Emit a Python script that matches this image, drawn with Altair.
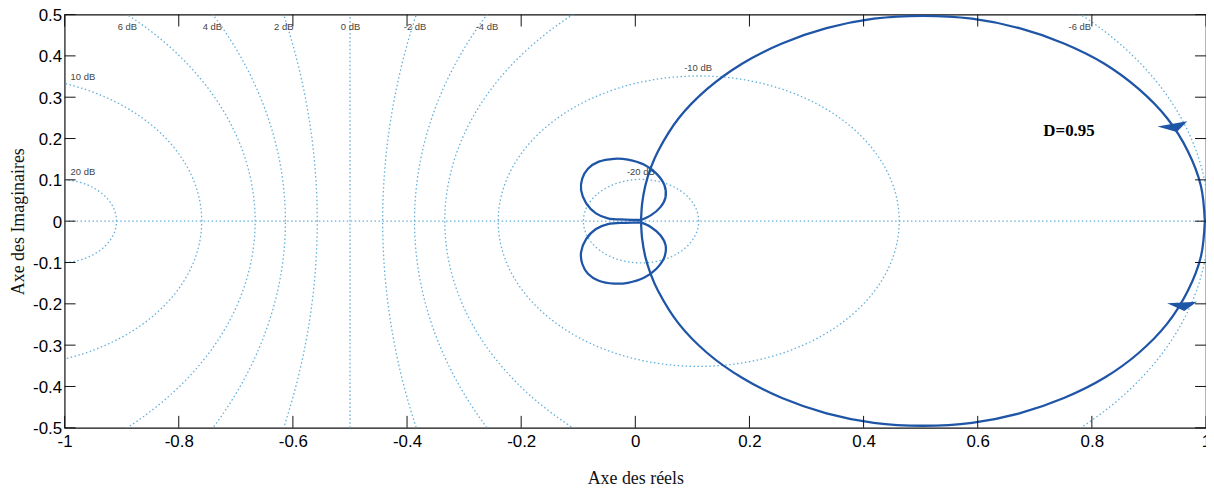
import altair as alt
import pandas as pd
import numpy as np

# ---------------- data ----------------
# Nyquist locus (D=0.95): big loop, upper and lower halves
circ_up_x = [0.010, 0.012, 0.0175, 0.027, 0.040, 0.076, 0.126, 0.187, 0.257, 0.335, 0.418, 0.504,
             0.590, 0.673, 0.751, 0.822, 0.882, 0.932, 0.968, 0.991, 0.998]
circ_up_y = [0.000, 0.043, 0.086, 0.129, 0.170, 0.249, 0.320, 0.381, 0.430, 0.467, 0.490, 0.497,
             0.490, 0.467, 0.430, 0.381, 0.320, 0.249, 0.170, 0.086, 0.000]
circ_dn_x = [0.010, 0.012, 0.0175, 0.027, 0.040, 0.076, 0.126, 0.187, 0.257, 0.335, 0.418, 0.504,
             0.590, 0.673, 0.751, 0.822, 0.882, 0.932, 0.968, 0.991, 0.998]
circ_dn_y = [0.000, -0.043, -0.086, -0.128, -0.169, -0.248, -0.319, -0.379, -0.428, -0.465, -0.488, -0.495,
             -0.488, -0.465, -0.428, -0.379, -0.319, -0.248, -0.169, -0.086, 0.000]
# small loops near the origin
lobe_up_x = [0.010, -0.017, -0.048, -0.069, -0.086, -0.095, -0.093, -0.083, -0.064, -0.037,
             -0.013, 0.015, 0.037, 0.051, 0.053, 0.044, 0.027, 0.010]
lobe_up_y = [0.003, 0.004, 0.007, 0.019, 0.043, 0.075, 0.103, 0.127, 0.144, 0.151,
             0.149, 0.137, 0.115, 0.087, 0.058, 0.034, 0.014, 0.003]
lobe_dn_x = [0.010, -0.017, -0.048, -0.069, -0.086, -0.095, -0.093, -0.083, -0.064, -0.037,
             -0.013, 0.015, 0.037, 0.051, 0.053, 0.044, 0.027, 0.010]
lobe_dn_y = [-0.003, -0.004, -0.007, -0.019, -0.043, -0.075, -0.103, -0.127, -0.144, -0.151,
             -0.149, -0.137, -0.115, -0.087, -0.058, -0.034, -0.014, -0.003]

# direction arrows
arrow_x = [0.941, 0.958]
arrow_y = [0.231, -0.202]

# M-circle grid levels (dB) and their labels
grid_db = [20, 10, 6, 4, 2, -2, -4, -6, -10, -20]
lab_text = ["20 dB", "10 dB", "6 dB", "4 dB", "2 dB", "0 dB", "-2 dB", "-4 dB", "-6 dB", "-10 dB", "-20 dB"]
lab_x = [-0.968, -0.968, -0.890, -0.741, -0.616, -0.499, -0.386, -0.260, 0.779, 0.110, 0.0096]
lab_y = [0.120, 0.349, 0.471, 0.471, 0.471, 0.471, 0.471, 0.471, 0.471, 0.370, 0.118]

x_ticks = [-1, -0.8, -0.6, -0.4, -0.2, 0, 0.2, 0.4, 0.6, 0.8, 1]
y_ticks = [-0.5, -0.4, -0.3, -0.2, -0.1, 0, 0.1, 0.2, 0.3, 0.4, 0.5]

note_text = ["D=0.95"]
note_x = [0.715]
note_y = [0.219]

# ---------------- build tables ----------------
W, H = 1149, 416
CURVE = "#1f55a6"
GRID = "#62b0da"

rows = []
for name, xs_, ys_ in [("cu", circ_up_x, circ_up_y), ("cd", circ_dn_x, circ_dn_y),
                       ("lu", lobe_up_x, lobe_up_y), ("ld", lobe_dn_x, lobe_dn_y)]:
    for i, (a, b) in enumerate(zip(xs_, ys_)):
        rows.append({"seg": name, "i": i, "x": a, "y": b})
curve_df = pd.DataFrame(rows)

grows = []
t = np.linspace(0, 2 * np.pi, 721)
for db in grid_db:
    m = 10 ** (db / 20.0)
    c = -m * m / (m * m - 1)
    r = abs(m / (m * m - 1))
    for i, tt in enumerate(t):
        grows.append({"seg": str(db), "i": i, "x": c + r * np.cos(tt), "y": r * np.sin(tt)})
# 0 dB line and the real axis
grows.append({"seg": "0", "i": 0, "x": -0.5, "y": -0.5})
grows.append({"seg": "0", "i": 1, "x": -0.5, "y": 0.5})
grows.append({"seg": "ax", "i": 0, "x": -1.0, "y": 0.0})
grows.append({"seg": "ax", "i": 1, "x": 1.0, "y": 0.0})
grid_df = pd.DataFrame(grows)

lab_df = pd.DataFrame({"x": lab_x, "y": lab_y, "t": lab_text})
note_df = pd.DataFrame({"x": note_x, "y": note_y, "t": note_text})
arr_df = pd.DataFrame({"x": arrow_x, "y": arrow_y, "k": ["up", "dn"]})
xt_df = pd.DataFrame({"x": x_ticks})
yt_df = pd.DataFrame({"y": y_ticks})

xs = alt.Scale(domain=[-1, 1], nice=False, zero=False)
ys = alt.Scale(domain=[-0.5, 0.5], nice=False, zero=False)
xaxis = alt.Axis(values=x_ticks, labelExpr="toString(datum.value)", ticks=False, domain=False,
                 grid=False, labelFontSize=17, labelFont="Liberation Sans", labelColor="#000",
                 labelPadding=6, title="Axe des réels", titleFont="Liberation Serif",
                 titleFontSize=18, titleFontWeight="normal", titleColor="#111",
                 titleY=42, titleBaseline="top", labelFlush=False, labelOverlap=False)
yaxis = alt.Axis(values=y_ticks, labelExpr="toString(datum.value)", ticks=False, domain=False,
                 grid=False, labelFontSize=17, labelFont="Liberation Sans", labelColor="#000",
                 labelPadding=3, labelOffset=1, title="Axe des Imaginaires", titleFont="Liberation Serif",
                 titleFontSize=18, titleFontWeight="normal", titleColor="#111",
                 titleX=-37, titleY=H / 2, titleAngle=-90, titleBaseline="bottom",
                 labelFlush=False, labelOverlap=False)

X = alt.X("x:Q", scale=xs, axis=xaxis)
Y = alt.Y("y:Q", scale=ys, axis=yaxis)

grid = alt.Chart(grid_df).mark_line(clip=True, color=GRID, strokeWidth=1.3,
                                    strokeDash=[1.5, 2.5]).encode(
    x=X, y=Y, detail="seg:N", order="i:Q")

labels = alt.Chart(lab_df).mark_text(font="Liberation Sans", fontSize=9.5, color="#444",
                                     align="center", baseline="middle").encode(
    x=X, y=Y, text="t:N")

curve = alt.Chart(curve_df).mark_line(color=CURVE, strokeWidth=2.3, interpolate="catmull-rom",
                                      clip=True).encode(
    x=X, y=Y, detail="seg:N", order="i:Q")

arr_up = alt.Chart(arr_df[arr_df.k == "up"]).mark_point(
    filled=True, color=CURVE, opacity=1, size=900, strokeWidth=0,
    shape="M -1 0.05 L 1 -0.3 L 0.3 0.42 Z").encode(x=X, y=Y)
arr_dn = alt.Chart(arr_df[arr_df.k == "dn"]).mark_point(
    filled=True, color=CURVE, opacity=1, size=900, strokeWidth=0,
    shape="M -1 -0.1 L 1 -0.2 L 0.15 0.42 Z").encode(x=X, y=Y)

note = alt.Chart(note_df).mark_text(font="Liberation Serif", fontSize=17, fontWeight="bold",
                                    color="#000", align="left", baseline="middle").encode(
    x=X, y=Y, text="t:N")

tick_b = alt.Chart(xt_df).mark_rule(color="#111", strokeWidth=1).encode(
    x=X, y=alt.value(H), y2=alt.value(H - 12))
tick_t = alt.Chart(xt_df).mark_rule(color="#111", strokeWidth=1).encode(
    x=X, y=alt.value(0), y2=alt.value(12))
tick_l = alt.Chart(yt_df).mark_rule(color="#111", strokeWidth=1).encode(
    y=Y, x=alt.value(0), x2=alt.value(11))
tick_r = alt.Chart(yt_df).mark_rule(color="#111", strokeWidth=1).encode(
    y=Y, x=alt.value(W), x2=alt.value(W - 11))

chart = alt.layer(grid, labels, curve, arr_up, arr_dn, note, tick_b, tick_t, tick_l, tick_r).properties(
    width=W, height=H,
    autosize=alt.AutoSizeParams(type="none"),
    padding={"left": 57, "top": 5, "right": 0, "bottom": 60},
    background="white",
).configure_view(stroke="#111", strokeWidth=1.2)

chart.save("out.html", embed_options={"renderer": "svg", "actions": False})
